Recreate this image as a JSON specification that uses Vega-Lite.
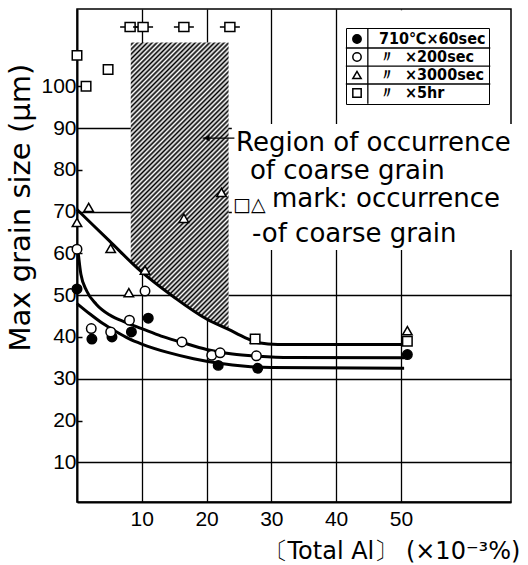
{
  "$schema": "https://vega.github.io/schema/vega-lite/v6.json",
  "width": 434,
  "height": 493,
  "autosize": "none",
  "padding": {"left": 77, "top": 9, "right": 17, "bottom": 63},
  "background": "white",
  "config": {
    "view": {"stroke": "black", "strokeWidth": 1.5},
    "font": "DejaVu Sans",
    "legend": {
      "strokeColor": "black", "padding": 3, "rowPadding": 2,
      "symbolSize": 70, "symbolStrokeWidth": 1.5, "symbolStrokeColor": "black",
      "labelFont": "Liberation Sans Narrow, DejaVu Sans Condensed, sans-serif", "labelFontSize": 16,
      "labelFontWeight": "bold", "labelColor": "black", "labelOffset": 14, "cornerRadius": 0
    }
  },
  "datasets": {
    "points": [
      {"series": "710℃×60sec", "x": 0, "y": 51.5},
      {"series": "710℃×60sec", "x": 2.3, "y": 39.5},
      {"series": "710℃×60sec", "x": 5.4, "y": 40},
      {"series": "710℃×60sec", "x": 8.4, "y": 41.2},
      {"series": "710℃×60sec", "x": 11, "y": 44.5},
      {"series": "710℃×60sec", "x": 21.8, "y": 33.2},
      {"series": "710℃×60sec", "x": 27.9, "y": 32.5},
      {"series": "710℃×60sec", "x": 51, "y": 35.8},
      {"series": "\u00a0〃\u00a0\u00a0×200sec", "x": 0, "y": 61},
      {"series": "\u00a0〃\u00a0\u00a0×200sec", "x": 2.2, "y": 42},
      {"series": "\u00a0〃\u00a0\u00a0×200sec", "x": 5.2, "y": 41.2},
      {"series": "\u00a0〃\u00a0\u00a0×200sec", "x": 8.1, "y": 44},
      {"series": "\u00a0〃\u00a0\u00a0×200sec", "x": 10.5, "y": 51},
      {"series": "\u00a0〃\u00a0\u00a0×200sec", "x": 16.2, "y": 38.8},
      {"series": "\u00a0〃\u00a0\u00a0×200sec", "x": 20.8, "y": 35.6},
      {"series": "\u00a0〃\u00a0\u00a0×200sec", "x": 22.1, "y": 36.2},
      {"series": "\u00a0〃\u00a0\u00a0×200sec", "x": 27.7, "y": 35.5},
      {"series": "\u00a0〃\u00a0\u00a0×3000sec", "x": 0, "y": 67.4},
      {"series": "\u00a0〃\u00a0\u00a0×3000sec", "x": 1.8, "y": 71},
      {"series": "\u00a0〃\u00a0\u00a0×3000sec", "x": 5.2, "y": 61.2},
      {"series": "\u00a0〃\u00a0\u00a0×3000sec", "x": 8, "y": 50.6},
      {"series": "\u00a0〃\u00a0\u00a0×3000sec", "x": 10.5, "y": 56},
      {"series": "\u00a0〃\u00a0\u00a0×3000sec", "x": 16.5, "y": 68.4},
      {"series": "\u00a0〃\u00a0\u00a0×3000sec", "x": 22.3, "y": 74.6},
      {"series": "\u00a0〃\u00a0\u00a0×3000sec", "x": 27.5, "y": 39.5},
      {"series": "\u00a0〃\u00a0\u00a0×3000sec", "x": 51, "y": 41.5},
      {"series": "\u00a0〃\u00a0\u00a0×5hr", "x": 0, "y": 107.4},
      {"series": "\u00a0〃\u00a0\u00a0×5hr", "x": 4.8, "y": 104},
      {"series": "\u00a0〃\u00a0\u00a0×5hr", "x": 1.4, "y": 100},
      {"series": "\u00a0〃\u00a0\u00a0×5hr", "x": 27.5, "y": 39.5},
      {"series": "\u00a0〃\u00a0\u00a0×5hr", "x": 51, "y": 39}
    ],
    "offscale": [
      {"series": "\u00a0〃\u00a0\u00a0×5hr", "x": 8.2, "y": 114.2},
      {"series": "\u00a0〃\u00a0\u00a0×5hr", "x": 10.2, "y": 114.2},
      {"series": "\u00a0〃\u00a0\u00a0×5hr", "x": 16.5, "y": 114.2},
      {"series": "\u00a0〃\u00a0\u00a0×5hr", "x": 23.6, "y": 114.2}
    ],
    "curves": [
      {"curve": "upper", "x": 0, "y": 70.5},
      {"curve": "upper", "x": 5, "y": 63},
      {"curve": "upper", "x": 9.8, "y": 55.8},
      {"curve": "upper", "x": 15, "y": 49.5},
      {"curve": "upper", "x": 20, "y": 44.3},
      {"curve": "upper", "x": 23.4, "y": 41.8},
      {"curve": "upper", "x": 26, "y": 39.8},
      {"curve": "upper", "x": 28, "y": 38.6},
      {"curve": "upper", "x": 31, "y": 38.2},
      {"curve": "upper", "x": 50.5, "y": 38.2},
      {"curve": "middle", "x": 0.2, "y": 60},
      {"curve": "middle", "x": 0.6, "y": 55},
      {"curve": "middle", "x": 1.5, "y": 51},
      {"curve": "middle", "x": 3, "y": 47.8},
      {"curve": "middle", "x": 5, "y": 45.3},
      {"curve": "middle", "x": 7.5, "y": 43.5},
      {"curve": "middle", "x": 10, "y": 42},
      {"curve": "middle", "x": 13, "y": 40.2},
      {"curve": "middle", "x": 16, "y": 38.8},
      {"curve": "middle", "x": 20, "y": 37},
      {"curve": "middle", "x": 24, "y": 35.9},
      {"curve": "middle", "x": 28, "y": 35.4},
      {"curve": "middle", "x": 33, "y": 35.1},
      {"curve": "middle", "x": 50.5, "y": 35},
      {"curve": "lower", "x": 0, "y": 48},
      {"curve": "lower", "x": 2, "y": 45.5},
      {"curve": "lower", "x": 4, "y": 43.2},
      {"curve": "lower", "x": 6, "y": 41.3},
      {"curve": "lower", "x": 8, "y": 39.6},
      {"curve": "lower", "x": 10, "y": 38.3},
      {"curve": "lower", "x": 14, "y": 36.3},
      {"curve": "lower", "x": 18, "y": 34.8},
      {"curve": "lower", "x": 22, "y": 33.7},
      {"curve": "lower", "x": 26, "y": 33},
      {"curve": "lower", "x": 30, "y": 32.7},
      {"curve": "lower", "x": 50.5, "y": 32.5}
    ],
    "hatch": [
      {"x": 8.3, "y": 110.5, "y2": 58},
      {"x": 9.8, "y": 110.5, "y2": 55.8},
      {"x": 15, "y": 110.5, "y2": 49.5},
      {"x": 20, "y": 110.5, "y2": 44.3},
      {"x": 23.4, "y": 110.5, "y2": 41.8}
    ],
    "masks": [
      {"x": 23.9, "x2": 69.6, "y": 60.8, "y2": 91},
      {"x": 41, "x2": 66.8, "y": 91, "y2": 118.2}
    ],
    "legendrows": [
      {"x": 41.5, "x2": 63.8, "y": 109.16},
      {"x": 41.5, "x2": 63.8, "y": 104.85},
      {"x": 41.5, "x2": 63.8, "y": 100.55}
    ],
    "legendcol": [{"x": 44.9, "y": 113.9, "y2": 95.8}],
    "arrow": [{"x": 19.4, "x2": 24.3, "y": 87.6}],
    "notes": [
      {"x": 24.55, "y": 84.5, "text": "Region of occurrence"},
      {"x": 26.7, "y": 77.8, "text": "of coarse grain"},
      {"x": 30.1, "y": 71.1, "text": "mark: occurrence"},
      {"x": 27.0, "y": 62.7, "text": "-of coarse grain"}
    ],
    "marknote": [{"x": 24.1, "y": 70.2, "text": "□△"}]
  },
  "encoding": {
    "x": {
      "field": "x", "type": "quantitative",
      "scale": {"domain": [0, 67], "nice": false, "zero": false},
      "axis": {
        "values": [10, 20, 30, 40, 50], "grid": true, "gridColor": "black", "gridWidth": 1.3,
        "ticks": false, "domainColor": "black", "domainWidth": 2,
        "labelFont": "Liberation Sans", "labelFontSize": 21, "labelColor": "black", "labelPadding": 6,
        "titleFont": "DejaVu Sans", "titleFontSize": 24, "titleFontWeight": "normal", "titleColor": "black",
        "titleX": 186, "titleY": 56, "titleAlign": "left", "titleBaseline": "alphabetic"
      },
      "title": "〔Total Al〕 (×10⁻³%)"
    },
    "y": {
      "field": "y", "type": "quantitative",
      "scale": {"domain": [0.5, 118.5], "nice": false, "zero": false},
      "axis": {
        "values": [10, 20, 30, 40, 50, 60, 70, 80, 90, 100], "grid": true, "gridColor": "black", "gridWidth": 1.3,
        "gridOpacity": {"condition": {"test": "datum.value % 20 == 10", "value": 1}, "value": 0},
        "ticks": true, "tickSize": -5, "tickColor": "black", "tickWidth": 1.5,
        "tickOpacity": {"condition": {"test": "datum.value % 20 == 0", "value": 1}, "value": 0},
        "domainColor": "black", "domainWidth": 2,
        "labelFont": "Liberation Sans", "labelFontSize": 21, "labelColor": "black", "labelPadding": 6,
        "titleFont": "DejaVu Sans", "titleFontSize": 29, "titleFontWeight": "normal", "titleColor": "black",
        "titleAngle": 270, "titleX": -57, "titleY": 342, "titleAlign": "left", "titleBaseline": "middle"
      },
      "title": "Max grain size   (μm)"
    }
  },
  "layer": [
    {
      "data": {"name": "hatch"},
      "mark": {
        "type": "area", "interpolate": "linear", "stroke": null,
        "fill": {
          "gradient": "linear", "x1": 0, "y1": 0, "x2": 0.41, "y2": 1.2,
          "stops": [
            {"offset": 0, "color": "#fff"}, {"offset": 0.00625, "color": "#000"}, {"offset": 0.0125, "color": "#fff"}, {"offset": 0.01875, "color": "#000"}, {"offset": 0.025, "color": "#fff"}, {"offset": 0.03125, "color": "#000"}, {"offset": 0.0375, "color": "#fff"}, {"offset": 0.04375, "color": "#000"},
            {"offset": 0.05, "color": "#fff"}, {"offset": 0.05625, "color": "#000"}, {"offset": 0.0625, "color": "#fff"}, {"offset": 0.06875, "color": "#000"}, {"offset": 0.075, "color": "#fff"}, {"offset": 0.08125, "color": "#000"}, {"offset": 0.0875, "color": "#fff"}, {"offset": 0.09375, "color": "#000"},
            {"offset": 0.1, "color": "#fff"}, {"offset": 0.10625, "color": "#000"}, {"offset": 0.1125, "color": "#fff"}, {"offset": 0.11875, "color": "#000"}, {"offset": 0.125, "color": "#fff"}, {"offset": 0.13125, "color": "#000"}, {"offset": 0.1375, "color": "#fff"}, {"offset": 0.14375, "color": "#000"},
            {"offset": 0.15, "color": "#fff"}, {"offset": 0.15625, "color": "#000"}, {"offset": 0.1625, "color": "#fff"}, {"offset": 0.16875, "color": "#000"}, {"offset": 0.175, "color": "#fff"}, {"offset": 0.18125, "color": "#000"}, {"offset": 0.1875, "color": "#fff"}, {"offset": 0.19375, "color": "#000"},
            {"offset": 0.2, "color": "#fff"}, {"offset": 0.20625, "color": "#000"}, {"offset": 0.2125, "color": "#fff"}, {"offset": 0.21875, "color": "#000"}, {"offset": 0.225, "color": "#fff"}, {"offset": 0.23125, "color": "#000"}, {"offset": 0.2375, "color": "#fff"}, {"offset": 0.24375, "color": "#000"},
            {"offset": 0.25, "color": "#fff"}, {"offset": 0.25625, "color": "#000"}, {"offset": 0.2625, "color": "#fff"}, {"offset": 0.26875, "color": "#000"}, {"offset": 0.275, "color": "#fff"}, {"offset": 0.28125, "color": "#000"}, {"offset": 0.2875, "color": "#fff"}, {"offset": 0.29375, "color": "#000"},
            {"offset": 0.3, "color": "#fff"}, {"offset": 0.30625, "color": "#000"}, {"offset": 0.3125, "color": "#fff"}, {"offset": 0.31875, "color": "#000"}, {"offset": 0.325, "color": "#fff"}, {"offset": 0.33125, "color": "#000"}, {"offset": 0.3375, "color": "#fff"}, {"offset": 0.34375, "color": "#000"},
            {"offset": 0.35, "color": "#fff"}, {"offset": 0.35625, "color": "#000"}, {"offset": 0.3625, "color": "#fff"}, {"offset": 0.36875, "color": "#000"}, {"offset": 0.375, "color": "#fff"}, {"offset": 0.38125, "color": "#000"}, {"offset": 0.3875, "color": "#fff"}, {"offset": 0.39375, "color": "#000"},
            {"offset": 0.4, "color": "#fff"}, {"offset": 0.40625, "color": "#000"}, {"offset": 0.4125, "color": "#fff"}, {"offset": 0.41875, "color": "#000"}, {"offset": 0.425, "color": "#fff"}, {"offset": 0.43125, "color": "#000"}, {"offset": 0.4375, "color": "#fff"}, {"offset": 0.44375, "color": "#000"},
            {"offset": 0.45, "color": "#fff"}, {"offset": 0.45625, "color": "#000"}, {"offset": 0.4625, "color": "#fff"}, {"offset": 0.46875, "color": "#000"}, {"offset": 0.475, "color": "#fff"}, {"offset": 0.48125, "color": "#000"}, {"offset": 0.4875, "color": "#fff"}, {"offset": 0.49375, "color": "#000"},
            {"offset": 0.5, "color": "#fff"}, {"offset": 0.50625, "color": "#000"}, {"offset": 0.5125, "color": "#fff"}, {"offset": 0.51875, "color": "#000"}, {"offset": 0.525, "color": "#fff"}, {"offset": 0.53125, "color": "#000"}, {"offset": 0.5375, "color": "#fff"}, {"offset": 0.54375, "color": "#000"},
            {"offset": 0.55, "color": "#fff"}, {"offset": 0.55625, "color": "#000"}, {"offset": 0.5625, "color": "#fff"}, {"offset": 0.56875, "color": "#000"}, {"offset": 0.575, "color": "#fff"}, {"offset": 0.58125, "color": "#000"}, {"offset": 0.5875, "color": "#fff"}, {"offset": 0.59375, "color": "#000"},
            {"offset": 0.6, "color": "#fff"}, {"offset": 0.60625, "color": "#000"}, {"offset": 0.6125, "color": "#fff"}, {"offset": 0.61875, "color": "#000"}, {"offset": 0.625, "color": "#fff"}, {"offset": 0.63125, "color": "#000"}, {"offset": 0.6375, "color": "#fff"}, {"offset": 0.64375, "color": "#000"},
            {"offset": 0.65, "color": "#fff"}, {"offset": 0.65625, "color": "#000"}, {"offset": 0.6625, "color": "#fff"}, {"offset": 0.66875, "color": "#000"}, {"offset": 0.675, "color": "#fff"}, {"offset": 0.68125, "color": "#000"}, {"offset": 0.6875, "color": "#fff"}, {"offset": 0.69375, "color": "#000"},
            {"offset": 0.7, "color": "#fff"}, {"offset": 0.70625, "color": "#000"}, {"offset": 0.7125, "color": "#fff"}, {"offset": 0.71875, "color": "#000"}, {"offset": 0.725, "color": "#fff"}, {"offset": 0.73125, "color": "#000"}, {"offset": 0.7375, "color": "#fff"}, {"offset": 0.74375, "color": "#000"},
            {"offset": 0.75, "color": "#fff"}, {"offset": 0.75625, "color": "#000"}, {"offset": 0.7625, "color": "#fff"}, {"offset": 0.76875, "color": "#000"}, {"offset": 0.775, "color": "#fff"}, {"offset": 0.78125, "color": "#000"}, {"offset": 0.7875, "color": "#fff"}, {"offset": 0.79375, "color": "#000"},
            {"offset": 0.8, "color": "#fff"}, {"offset": 0.80625, "color": "#000"}, {"offset": 0.8125, "color": "#fff"}, {"offset": 0.81875, "color": "#000"}, {"offset": 0.825, "color": "#fff"}, {"offset": 0.83125, "color": "#000"}, {"offset": 0.8375, "color": "#fff"}, {"offset": 0.84375, "color": "#000"},
            {"offset": 0.85, "color": "#fff"}, {"offset": 0.85625, "color": "#000"}, {"offset": 0.8625, "color": "#fff"}, {"offset": 0.86875, "color": "#000"}, {"offset": 0.875, "color": "#fff"}, {"offset": 0.88125, "color": "#000"}, {"offset": 0.8875, "color": "#fff"}, {"offset": 0.89375, "color": "#000"},
            {"offset": 0.9, "color": "#fff"}, {"offset": 0.90625, "color": "#000"}, {"offset": 0.9125, "color": "#fff"}, {"offset": 0.91875, "color": "#000"}, {"offset": 0.925, "color": "#fff"}, {"offset": 0.93125, "color": "#000"}, {"offset": 0.9375, "color": "#fff"}, {"offset": 0.94375, "color": "#000"},
            {"offset": 0.95, "color": "#fff"}, {"offset": 0.95625, "color": "#000"}, {"offset": 0.9625, "color": "#fff"}, {"offset": 0.96875, "color": "#000"}, {"offset": 0.975, "color": "#fff"}, {"offset": 0.98125, "color": "#000"}, {"offset": 0.9875, "color": "#fff"}, {"offset": 0.99375, "color": "#000"},
            {"offset": 1, "color": "#fff"}
          ]
        }
      },
      "encoding": {"y2": {"field": "y2"}}
    },
    {
      "data": {"name": "masks"},
      "mark": {"type": "rect", "fill": "white", "stroke": null},
      "encoding": {"x2": {"field": "x2"}, "y2": {"field": "y2"}}
    },
    {
      "data": {"name": "legendrows"},
      "mark": {"type": "rule", "color": "black", "strokeWidth": 1.3},
      "encoding": {"x2": {"field": "x2"}}
    },
    {
      "data": {"name": "legendcol"},
      "mark": {"type": "rule", "color": "black", "strokeWidth": 1.3},
      "encoding": {"y2": {"field": "y2"}}
    },
    {
      "data": {"name": "curves"},
      "mark": {"type": "line", "color": "black", "strokeWidth": 3, "interpolate": "monotone"},
      "encoding": {"detail": {"field": "curve", "type": "nominal"}}
    },
    {
      "data": {"name": "points"},
      "mark": {"type": "point", "filled": true, "strokeWidth": 1.5, "size": 90, "opacity": 1},
      "encoding": {
        "shape": {
          "field": "series", "type": "nominal",
          "scale": {"domain": ["710℃×60sec", "\u00a0〃\u00a0\u00a0×200sec", "\u00a0〃\u00a0\u00a0×3000sec", "\u00a0〃\u00a0\u00a0×5hr"], "range": ["circle", "circle", "triangle-up", "square"]},
          "legend": {"title": null, "orient": "none", "legendX": 269, "legendY": 19}
        },
        "fill": {
          "field": "series", "type": "nominal",
          "scale": {"domain": ["710℃×60sec", "\u00a0〃\u00a0\u00a0×200sec", "\u00a0〃\u00a0\u00a0×3000sec", "\u00a0〃\u00a0\u00a0×5hr"], "range": ["black", "white", "white", "white"]},
          "legend": {"title": null, "orient": "none", "legendX": 269, "legendY": 19}
        },
        "stroke": {
          "field": "series", "type": "nominal",
          "scale": {"domain": ["710℃×60sec", "\u00a0〃\u00a0\u00a0×200sec", "\u00a0〃\u00a0\u00a0×3000sec", "\u00a0〃\u00a0\u00a0×5hr"], "range": ["black", "black", "black", "black"]},
          "legend": {"title": null, "orient": "none", "legendX": 269, "legendY": 19}
        }
      }
    },
    {
      "data": {"name": "offscale"},
      "mark": {"type": "point", "filled": true, "fill": "white", "stroke": "black", "strokeWidth": 1.5, "size": 400, "opacity": 1,
        "shape": "M-1,0H-0.5M0.5,0H1M-0.5,-0.45H0.5V0.45H-0.5Z"}
    },
    {
      "data": {"name": "arrow"},
      "mark": {"type": "rule", "color": "black", "strokeWidth": 1.3},
      "encoding": {"x2": {"field": "x2"}}
    },
    {
      "data": {"name": "arrow"},
      "mark": {"type": "point", "shape": "triangle-left", "filled": true, "color": "black", "size": 45, "opacity": 1, "xOffset": 4}
    },
    {
      "data": {"name": "notes"},
      "mark": {"type": "text", "align": "left", "baseline": "alphabetic", "font": "DejaVu Sans", "fontSize": 26, "color": "black"},
      "encoding": {"text": {"field": "text"}}
    },
    {
      "data": {"name": "marknote"},
      "mark": {"type": "text", "align": "left", "baseline": "alphabetic", "font": "DejaVu Sans", "fontSize": 19, "color": "black"},
      "encoding": {"text": {"field": "text"}}
    }
  ]
}
